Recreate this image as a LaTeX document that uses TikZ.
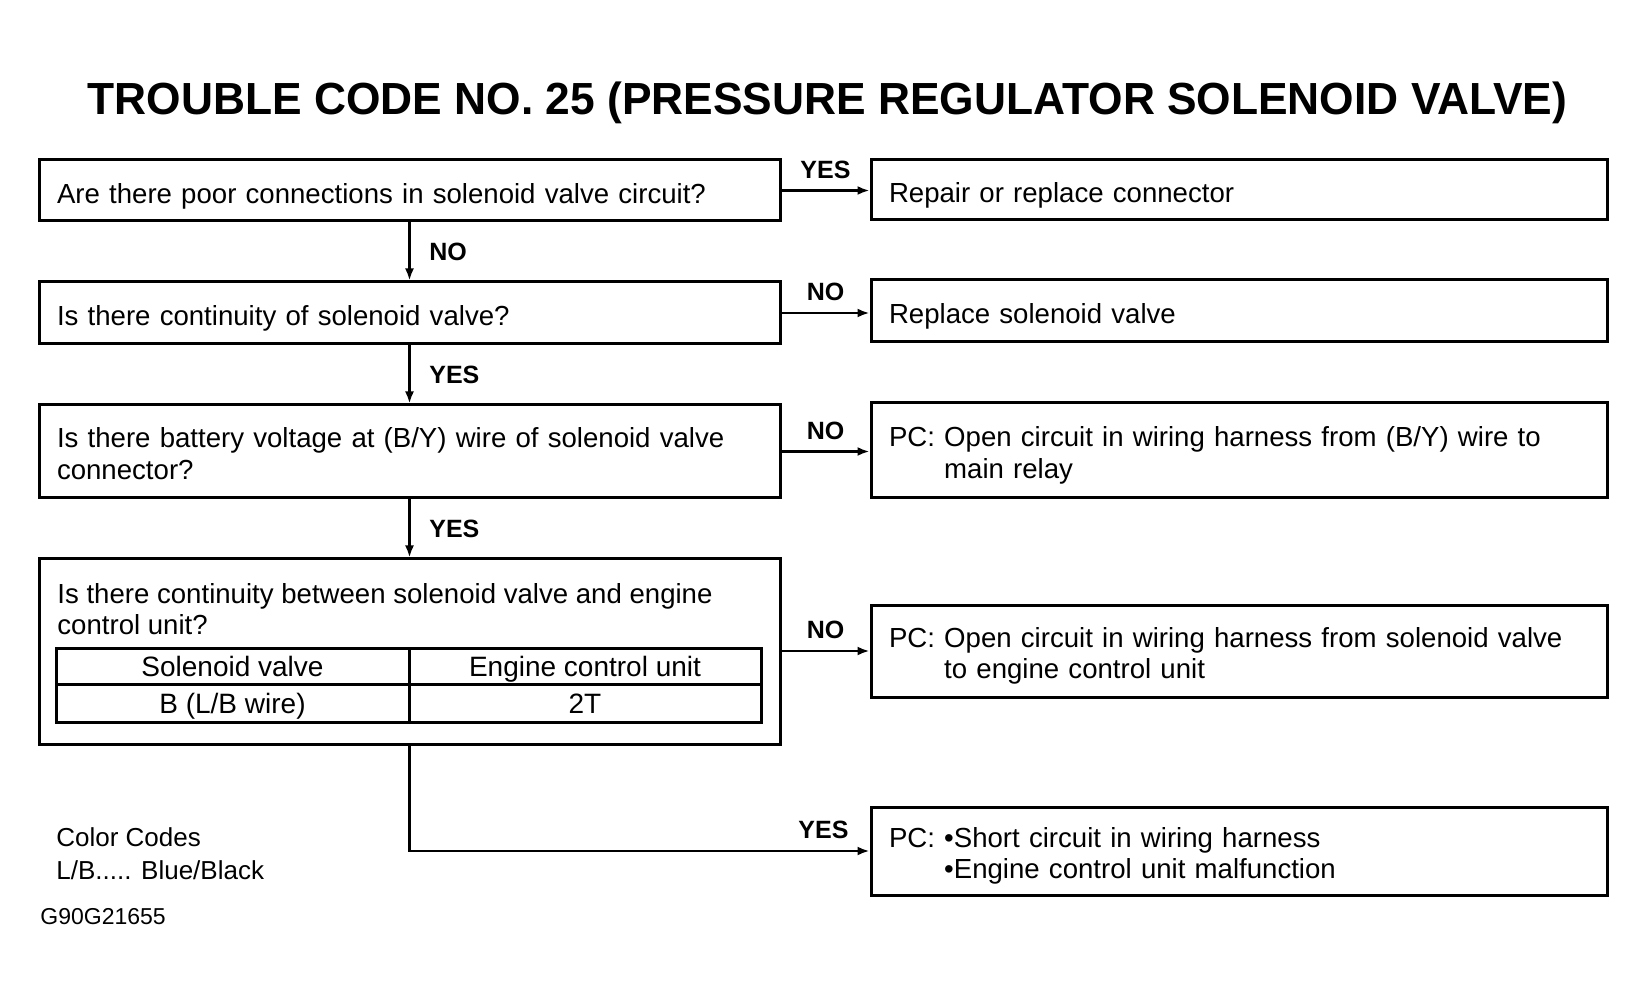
\documentclass[tikz,border=0pt]{standalone}
\usepackage{fontspec}
\setmainfont{Liberation Sans}
\newfontfamily\titlefont[FakeStretch=0.985]{Liberation Sans}
\usetikzlibrary{arrows.meta}

\newcommand\boxfont{\fontsize{13.8}{15.8}\selectfont}
\newcommand\cellfont{\fontsize{14}{16}\selectfont}
\newcommand\lblfont{\fontsize{12.5}{14}\selectfont\bfseries}
\newcommand\lowtext[1]{\raisebox{-2.8pt}[\height][\depth]{#1}}

\begin{document}
\begin{tikzpicture}[x=0.5pt,y=-0.5pt,
  >={Latex[length=6pt,width=4.5pt]},
  box/.style={draw,line width=1.5pt,minimum height=#1,inner xsep=9pt,inner ysep=0pt},
  qbox/.style={box=#1,minimum width=370.5pt,text width=352.5pt,align=left,font=\boxfont},
  abox/.style={box=#1,minimum width=368pt,text width=350pt,align=left,font=\boxfont},
  cell/.style={draw,line width=1.5pt,inner sep=0pt,text height=11pt,text depth=1pt,font=\cellfont},
  conn/.style={line width=1.2pt},
  lbl/.style={font=\lblfont}]
%\draw [help lines,black!20!white] (0,0) grid[step=100] (1646,1000);
\useasboundingbox (0,0) rectangle (1646,1000);

\node[anchor=base] (title) at (827.5,115)
  {\titlefont\bfseries\fontsize{22.5}{27}\selectfont TROUBLE CODE NO. 25 (PRESSURE REGULATOR SOLENOID VALVE)};

% questions
\node[qbox=30.5pt] (q1) at (409.5,190.5) {\lowtext{Are there poor connections in solenoid valve circuit?}};
\node[qbox=31pt] (q2) at (409.5,313) {\lowtext{Is there continuity of solenoid valve?}};
\node[qbox=46.5pt] (q3) at (409.5,451.5)
  {\lowtext{\begin{tabular}{@{}l@{}}Is there battery voltage at (B/Y) wire of solenoid valve\\connector?\end{tabular}}};
\node[draw,line width=1.5pt,minimum width=370.5pt,minimum height=92.5pt] (q4) at (409.5,651.5) {};
\node[anchor=west,inner sep=0pt,align=left,font=\boxfont] (q4txt) at (57,609)
  {Is there continuity between solenoid valve and engine\\control unit?};

% table in q4
\node[cell,minimum width=176.5pt,minimum height=18pt] (ta) at (232.5,666) {Solenoid valve};
\node[cell,minimum width=176pt,minimum height=18pt] (tb) at (585,666) {Engine control unit};
\node[cell,minimum width=176.5pt,minimum height=19pt] (tc) at (232.5,703) {B (L/B wire)};
\node[cell,minimum width=176pt,minimum height=19pt] (td) at (585,703) {2T};

% answers
\node[abox=30pt] (r1) at (1239,190) {\lowtext{Repair or replace connector}};
\node[abox=31pt] (r2) at (1239,311) {\lowtext{Replace solenoid valve}};
\node[abox=47.5pt] (r3) at (1239,450.5)
  {\lowtext{\begin{tabular}{@{}l@{ }l@{}}PC: & Open circuit in wiring harness from (B/Y) wire to\\ & main relay\end{tabular}}};
\node[abox=46pt] (r4) at (1239,651)
  {\lowtext{\begin{tabular}{@{}l@{ }l@{}}PC: & Open circuit in wiring harness from solenoid valve\\ & to engine control unit\end{tabular}}};
\node[abox=44pt] (r5) at (1239,851)
  {\lowtext{\begin{tabular}{@{}l@{ }l@{}}PC: & \textbullet Short circuit in wiring harness\\ & \textbullet Engine control unit malfunction\end{tabular}}};

% connectors
\draw[conn,->] (q1.east) -- (q1.east -| r1.west) node[lbl,midway,above=2pt] {YES};
\draw[conn,->] (q1) -- (q2) node[lbl,midway,right=6pt] {NO};
\draw[conn,->] (q2.east) -- (q2.east -| r2.west) node[lbl,midway,above=2pt] {NO};
\draw[conn,->] (q2) -- (q3) node[lbl,midway,right=6pt] {YES};
\draw[conn,->] (q3.east) -- (q3.east -| r3.west) node[lbl,midway,above=2pt] {NO};
\draw[conn,->] (q3) -- (q4) node[lbl,midway,right=6pt] {YES};
\draw[conn,->] (q4.east |- r4.west) -- (r4.west) node[lbl,midway,above=2pt] {NO};
\draw[conn,->] (q4) |- (r5) node[lbl,pos=0.95,above=2pt] {YES};

% notes
\node[anchor=west,inner sep=0pt,align=left,font=\fontsize{13}{16.5}\selectfont] (codes) at (56,853.5)
  {Color Codes\\L/B..... Blue/Black};
\node[anchor=west,inner sep=0pt,font=\fontsize{11.5}{14}\selectfont] (fig) at (40,917) {G90G21655};

\end{tikzpicture}
\end{document}
